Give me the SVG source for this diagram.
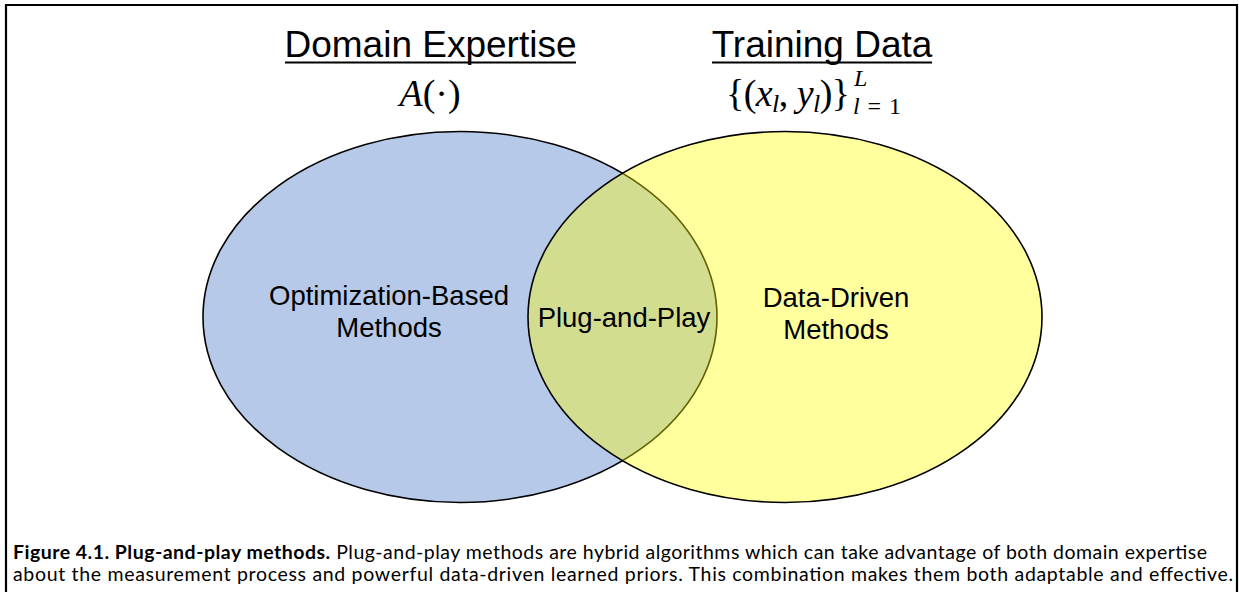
<svg xmlns="http://www.w3.org/2000/svg" width="1239" height="592" viewBox="0 0 1239 592">
<style>
.t{font-family:"Liberation Sans",Arial,sans-serif;fill:#000}
.h{font-size:37px}
.m{font-family:"Liberation Serif","Times New Roman",serif;font-size:38px;fill:#000}
.s{font-family:"Liberation Serif","Times New Roman",serif;font-size:24px;fill:#000}
.sub{font-size:26px}
.i{font-style:italic}
.lbl{font-size:27.5px}
.cap{font-family:Lato,"Open Sans",sans-serif;font-size:19.5px;fill:#000}
.ell{stroke:#000;stroke-width:1.6}
</style>
<rect width="1239" height="592" fill="#fff"/>
<path d="M6,592 V5 H1237 V592" fill="none" stroke="#000" stroke-width="2.2"/>
<g id="blue-set">
<ellipse class="ell" cx="460" cy="317" rx="257" ry="185.5" fill="#B6C9E8"/>
</g>
<g id="yellow-set">
<ellipse cx="785" cy="317" rx="257" ry="185.5" fill="#FFFF00" fill-opacity="0.38" stroke="#000" stroke-width="1.6"/>
</g>
<g id="connectors"></g>
<g id="domain-expertise">
<text class="t h" x="430.5" y="57" text-anchor="middle">Domain Expertise</text>
<line x1="285" y1="62.5" x2="576" y2="62.5" stroke="#000" stroke-width="2.2"/>
<text class="m" x="430" y="106" text-anchor="middle"><tspan class="i">A</tspan>(·)</text>
</g>
<g id="training-data">
<text class="t h" x="822" y="57" text-anchor="middle">Training Data</text>
<line x1="712" y1="62.5" x2="932" y2="62.5" stroke="#000" stroke-width="2.2"/>
<text class="m" x="726" y="106" textLength="124" lengthAdjust="spacing">{(<tspan class="i">x</tspan><tspan class="i sub" dy="6">l</tspan><tspan dy="-6">, </tspan><tspan class="i">y</tspan><tspan class="i sub" dy="6">l</tspan><tspan dy="-6">)}</tspan></text>
<text class="s i" x="854" y="86">L</text>
<text class="s" x="853" y="114" textLength="48" lengthAdjust="spacing"><tspan class="i">l</tspan>=1</text>
</g>
<g id="optimization">
<text class="t lbl" x="389" y="305" text-anchor="middle">Optimization-Based</text>
<text class="t lbl" x="389" y="337" text-anchor="middle">Methods</text>
</g>
<g id="plug-and-play">
<text class="t lbl" x="624" y="327" text-anchor="middle">Plug-and-Play</text>
</g>
<g id="data-driven">
<text class="t lbl" x="836" y="307" text-anchor="middle">Data-Driven</text>
<text class="t lbl" x="836" y="339" text-anchor="middle">Methods</text>
</g>
<g id="caption">
<text class="cap" x="13" y="559" textLength="1194" lengthAdjust="spacing"><tspan font-weight="bold">Figure 4.1. Plug-and-play methods.</tspan> Plug-and-play methods are hybrid algorithms which can take advantage of both domain expertise</text>
<text class="cap" x="13" y="581" textLength="1220" lengthAdjust="spacing">about the measurement process and powerful data-driven learned priors. This combination makes them both adaptable and effective.</text>
</g>
</svg>
